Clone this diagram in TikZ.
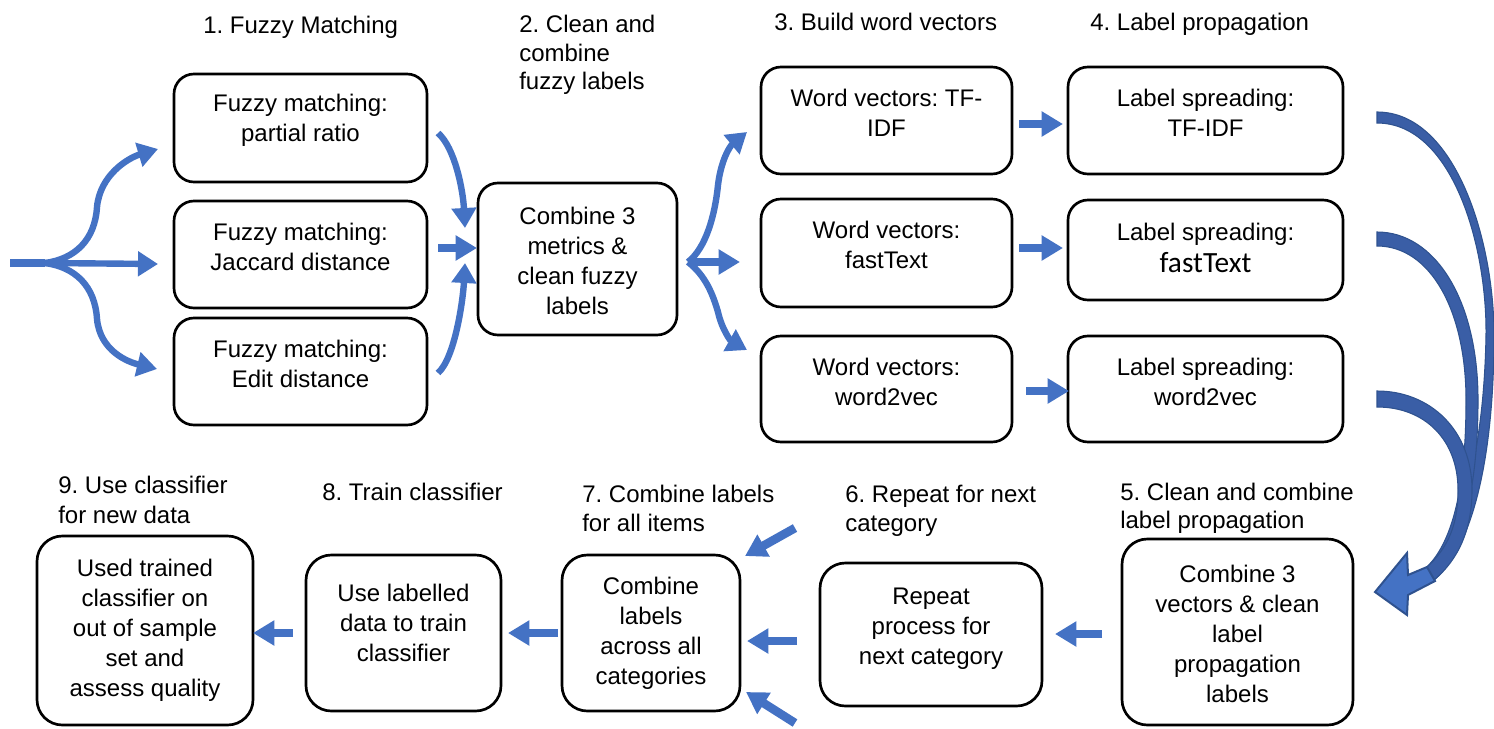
\documentclass[tikz,border=0pt]{standalone}
\usepackage{fontspec}
\setmainfont{Liberation Sans}
\newfontfamily\calib{Carlito}
\usetikzlibrary{arrows.meta,calc}
\definecolor{ablue}{HTML}{4472C4}
\definecolor{dblue}{HTML}{2F528F}
\definecolor{cblue}{HTML}{3A5EA6}
\frenchspacing
\begin{document}
\begin{tikzpicture}[x=0.75pt,y=-0.75pt,
  box/.style={draw=black, line width=2pt, rounded corners=15pt, inner sep=0pt, fill=white},
  bbox/.style={box, rounded corners=19pt},
  txt/.style={align=center, font=\fontsize{18}{22.5}\selectfont, inner sep=0pt},
  hd/.style={anchor=base west, font=\fontsize{18}{22.5}\selectfont, inner sep=0pt},
  sarr/.style={draw=ablue, line width=6.5pt, -{Triangle[length=16pt,width=18pt]}},
  carr/.style={draw=ablue, line width=4.8pt, -{Triangle[length=15pt,width=18pt]}},
  bigc/.style={fill=cblue, draw=dblue, line width=0.8pt}
]
\useasboundingbox (0,0) rectangle (1494,728);

% ---------- boxes ----------
\node[box, minimum width=189.75pt, minimum height=81pt]    (fm1) at (300.5,128) {};
\node[box, minimum width=189.75pt, minimum height=80.25pt] (fm2) at (300.5,254.5) {};
\node[box, minimum width=189.75pt, minimum height=80.25pt] (fm3) at (300.5,371.5) {};
\node[box, minimum width=149.25pt, minimum height=114pt]   (comb) at (577.5,259) {};
\node[box, minimum width=188.25pt, minimum height=80.25pt] (wv1) at (886.5,120.5) {};
\node[box, minimum width=188.25pt, minimum height=81pt]    (wv2) at (886.5,253) {};
\node[box, minimum width=188.25pt, minimum height=79.5pt]  (wv3) at (886.5,389) {};
\node[box, minimum width=206.25pt, minimum height=80.25pt] (ls1) at (1205.5,120.5) {};
\node[box, minimum width=206.25pt, minimum height=75pt]    (ls2) at (1205.5,250) {};
\node[box, minimum width=206.25pt, minimum height=79.5pt]  (ls3) at (1205.5,389) {};
\node[bbox, minimum width=173.25pt, minimum height=139.5pt] (b5) at (1237.5,632) {};
\node[bbox, minimum width=166.5pt, minimum height=107.25pt] (b6) at (931,634.5) {};
\node[bbox, minimum width=133.5pt, minimum height=117pt]    (b7) at (651,633) {};
\node[bbox, minimum width=146.25pt, minimum height=117pt]   (b8) at (403.5,633) {};
\node[bbox, minimum width=162pt, minimum height=141.75pt]   (b9) at (145,630.5) {};

% ---------- box texts ----------
\node[txt] (fm1t) at (300.5,120) {Fuzzy matching:\\partial ratio};
\node[txt] (fm2t) at (300.5,247) {Fuzzy matching:\\Jaccard distance};
\node[txt] (fm3t) at (300.5,363.5) {Fuzzy matching:\\Edit distance};
\node[txt] (combt) at (577.5,261) {Combine 3\\metrics \&\\clean fuzzy\\labels};
\node[txt] (wv1t) at (886.5,113) {Word vectors: TF-\\IDF};
\node[txt] (wv2t) at (886.5,244.5) {Word vectors:\\fastText};
\node[txt] (wv3t) at (886.5,382) {Word vectors:\\word2vec};
\node[txt] (ls1t) at (1205.5,113) {Label spreading:\\TF-IDF};
\node[txt] (ls2t) at (1205.5,248) {Label spreading:\\[2pt]{\calib\fontsize{22}{24}\selectfont fastText}};
\node[txt] (ls3t) at (1205.5,382) {Label spreading:\\word2vec};
\node[txt] (b5t) at (1237.5,634) {Combine 3\\vectors \& clean\\label\\propagation\\labels};
\node[txt] (b6t) at (931,628.5) {Repeat\\process for\\next category};
\node[txt] (b7t) at (651,633) {Combine\\labels\\across all\\categories};
\node[txt] (b8t) at (403.5,622.5) {Use labelled\\data to train\\classifier};
\node[txt] (b9t) at (145,630.5) {Used trained\\classifier on\\out of sample\\set and\\assess quality};

% ---------- headings ----------
\node[hd] (h1) at (203,33) {1. Fuzzy Matching};
\node[hd] (h2a) at (519,32) {2. Clean and};
\node[hd] (h2b) at (519,61) {combine};
\node[hd] (h2c) at (519,89) {fuzzy labels};
\node[hd] (h3) at (774,31) {3. Build word vectors};
\node[hd] (h4) at (1090,31) {4. Label propagation};
\node[hd] (h5a) at (1120,500) {5. Clean and combine};
\node[hd] (h5b) at (1120,528) {label propagation};
\node[hd] (h6a) at (845,502) {6. Repeat for next};
\node[hd] (h6b) at (845,531) {category};
\node[hd] (h7a) at (582,502) {7. Combine labels};
\node[hd] (h7b) at (582,531) {for all items};
\node[hd] (h8) at (322,500) {8. Train classifier};
\node[hd] (h9a) at (58,493) {9. Use classifier};
\node[hd] (h9b) at (58,523) {for new data};

% ---------- arrow endpoints ----------
\coordinate (src) at (10,263);
\coordinate (fork) at (45,263);
\coordinate (t1) at (158,149);
\coordinate (t2) at (158,264);
\coordinate (t3) at (157,369);
\coordinate (c1s) at (438,133);
\coordinate (c1t) at (465,228);
\coordinate (c2s) at (438,248);
\coordinate (c2t) at (477,248);
\coordinate (c3s) at (438,373);
\coordinate (c3t) at (465,263);
\coordinate (rf) at (688,262);
\coordinate (r1) at (747,132);
\coordinate (r2) at (740,262);
\coordinate (r3) at (747,350);
\coordinate (w1s) at (1019,124);
\coordinate (w1t) at (1063,124);
\coordinate (w2s) at (1019,248);
\coordinate (w2t) at (1063,248);
\coordinate (w3s) at (1026,391);
\coordinate (w3t) at (1069,391);
\coordinate (p5s) at (1102,634);
\coordinate (p5t) at (1055,634);
\coordinate (p6s) at (797,641);
\coordinate (p6t) at (747,641);
\coordinate (q1s) at (795,528);
\coordinate (q1t) at (745,556);
\coordinate (q2s) at (795,723);
\coordinate (q2t) at (746,692);
\coordinate (p7s) at (558,633);
\coordinate (p7t) at (508,633);
\coordinate (p8s) at (293,633);
\coordinate (p8t) at (253,633);

% ---------- left fork ----------
\draw[draw=ablue, line width=5.8pt] (src) -- (fork);
\draw[carr] (fork) .. controls (75,259) and (95,240) .. (97,207) .. controls (100,175) and (128,158) .. (t1);
\draw[carr] (fork) -- (t2);
\draw[carr] (fork) .. controls (75,267) and (95,286) .. (97,319) .. controls (100,351) and (128,362) .. (t3);

% ---------- into combine ----------
\draw[carr] (c1s) .. controls (455,148) and (463,190) .. (c1t);
\draw[sarr] (c2s) -- (c2t);
\draw[carr] (c3s) .. controls (455,358) and (463,300) .. (c3t);

% ---------- right fork ----------
\draw[carr] (rf) .. controls (706,248) and (715,215) .. (718,185) .. controls (721,160) and (730,146) .. (r1);
\draw[sarr] (rf) -- (r2);
\draw[carr] (rf) .. controls (706,276) and (713,295) .. (718,312) .. controls (722,330) and (731,341) .. (r3);

% ---------- word vectors -> label spreading ----------
\draw[sarr] (w1s) -- (w1t);
\draw[sarr] (w2s) -- (w2t);
\draw[sarr] (w3s) -- (w3t);

% ---------- big curved arrows ----------
\path[bigc] (1377,112) .. controls (1455,112) and (1494,240) .. (1494,335)
  .. controls (1494,450) and (1475,545) .. (1434,580) -- (1426,568)
  .. controls (1462,535) and (1484,450) .. (1486,335)
  .. controls (1487,245) and (1452,123) .. (1377,123) -- cycle;
\path[bigc] (1377,232) .. controls (1435,232) and (1478,300) .. (1478,400)
  .. controls (1478,480) and (1465,545) .. (1434,580) -- (1426,568)
  .. controls (1455,540) and (1466,480) .. (1466,400)
  .. controls (1466,310) and (1430,246) .. (1377,246) -- cycle;
\path[bigc] (1377,391) .. controls (1430,391) and (1472,430) .. (1472,490)
  .. controls (1472,530) and (1458,560) .. (1434,580) -- (1426,568)
  .. controls (1448,548) and (1458,525) .. (1458,490)
  .. controls (1458,440) and (1425,407) .. (1377,407) -- cycle;
\path[fill=ablue, draw=dblue, line width=1.5pt, line join=miter]
  (1375,592) -- (1407,553) -- (1408,575) -- (1427,567) -- (1435,581)
  -- (1408,595) -- (1407,615) -- cycle;

% ---------- bottom row ----------
\draw[sarr] (p5s) -- (p5t);
\draw[sarr] (p6s) -- (p6t);
\draw[sarr] (q1s) -- (q1t);
\draw[sarr] (q2s) -- (q2t);
\draw[sarr] (p7s) -- (p7t);
\draw[sarr] (p8s) -- (p8t);
\end{tikzpicture}
\end{document}
